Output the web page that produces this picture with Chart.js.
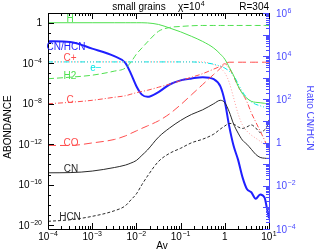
<!DOCTYPE html>
<html><head><meta charset="utf-8">
<script src="https://cdn.jsdelivr.net/npm/chart.js@4/dist/chart.umd.min.js"></script>
<style>html,body{margin:0;padding:0;background:#fff}canvas{display:block}</style>
</head><body>
<canvas id="c" width="314" height="251"></canvas>
<script>
// Av grid (x axis)
const av = [1e-4,3.16e-4,1e-3,3.16e-3,5.62e-3,7.5e-3,1e-2,1.33e-2,1.78e-2,3.16e-2,5.62e-2,0.1,0.178,0.316,0.562,0.794,1,1.26,1.58,2.0,2.51,3.16,3.98,5.01,6.31,7.94,8.91,10];
// log10 abundances
const logH   = [0,0,0,0,0,0,0,0,-0.02,-0.17,-0.52,-0.9,-1.35,-1.85,-2.5,-3.1,-3.6,-4.4,-5.2,-6.25,-7.0,-7.46,-7.76,-7.86,-7.9,-7.96,-8.0,-8.0];
const logH2  = [-5.53,-5.38,-5.18,-4.78,-4.48,-3.9,-3.1,-2.5,-1.9,-0.85,-0.47,-0.37,-0.3,-0.27,-0.27,-0.27,-0.27,-0.27,-0.27,-0.27,-0.27,-0.27,-0.27,-0.27,-0.27,-0.27,-0.27,-0.27];
const logE   = [-3.87,-3.87,-3.87,-3.87,-3.87,-3.87,-3.87,-3.87,-3.87,-3.87,-3.87,-3.87,-3.87,-3.94,-4.09,-4.29,-4.48,-4.78,-5.23,-6.02,-6.82,-7.41,-7.81,-8.06,-8.2,-8.35,-8.45,-8.6];
const logCp  = [-3.87,-3.87,-3.87,-3.87,-3.87,-3.87,-3.87,-3.87,-3.87,-3.87,-3.87,-3.87,-3.87,-3.87,-4.14,-4.5,-4.95,-5.9,-7.4,-9.0,-10.1,-10.7,-11.1,-11.4,-11.7,-12.0,-12.2,-12.5];
const logC   = [-8.0,-7.86,-7.66,-7.36,-7.21,-7.06,-6.91,-6.79,-6.67,-6.37,-6.07,-5.72,-5.38,-5.03,-4.58,-4.3,-4.05,-4.5,-5.3,-6.3,-7.0,-7.8,-8.9,-9.8,-10.7,-11.6,-12.1,-12.6];
const logCO  = [-12.12,-12.12,-11.87,-11.53,-11.18,-10.93,-10.68,-10.43,-10.19,-9.69,-9.0,-8.1,-7.1,-6.1,-5.1,-4.5,-4.05,-3.9,-3.9,-3.9,-3.9,-3.9,-3.9,-3.9,-3.9,-3.9,-3.9,-3.9];
const logCN  = [-14.82,-14.8,-14.65,-14.3,-14.06,-13.86,-13.6,-13.1,-12.57,-11.3,-10.4,-9.65,-9.05,-8.6,-8.0,-7.66,-7.9,-8.8,-10.0,-10.9,-11.6,-12.0,-12.5,-13.0,-13.3,-13.38,-13.4,-13.4];
const logHCN = [-19.61,-19.46,-19.12,-18.57,-18.08,-17.5,-16.9,-16.0,-15.15,-13.7,-12.9,-12.4,-11.85,-11.5,-11.0,-10.5,-10.2,-9.95,-10.0,-10.29,-10.44,-10.29,-10.09,-10.39,-10.83,-10.58,-10.29,-9.6];
// log10 CN/HCN ratio (right axis)
const logRatio = [4.69,4.66,4.35,4.0,3.69,3.19,2.61,2.22,2.12,2.34,2.69,2.88,2.97,3.03,2.94,2.6,1.9,0.75,-0.15,-0.8,-1.6,-2.15,-2.3,-2.6,-2.4,-2.55,-3.0,-3.5];
// axis tick exponents
const xTickExp = [-4,-3,-2,-1,0,1];
const yTickExp = [0,-4,-8,-12,-16,-20];
const y2TickExp = [6,4,2,0,-2,-4];

const FONT = "'Liberation Sans', Arial, sans-serif";
const GREEN='#4fe04f', CYAN='#00e6e6', RED='#ff4d4d', PINK='#ff9e9e', BLACK='#2a2a2a', BLUE='#1f1fff', LBLUE='#4a4aff';

function pts(arr){ return av.map((a,i)=>({x:a,y:Math.pow(10,arr[i])})); }
function ds(arr,color,dash,w,axis){
  return {data:pts(arr),borderColor:color,borderWidth:w||1,borderDash:dash||[],pointRadius:0,
    fill:false,cubicInterpolationMode:'monotone',yAxisID:axis||'y'};
}

const overlay = {
  id:'overlay',
  afterDraw(chart){
    const ctx=chart.ctx, ca=chart.chartArea, X=chart.scales.x, Y=chart.scales.y, Y2=chart.scales.y2;
    ctx.save();
    ctx.lineWidth=1;
    // frame
    ctx.strokeStyle='#000';
    ctx.beginPath();
    ctx.moveTo(ca.right,ca.top+0.5);ctx.lineTo(ca.left+0.5,ca.top+0.5);ctx.lineTo(ca.left+0.5,ca.bottom+0.5);ctx.lineTo(ca.right,ca.bottom+0.5);
    ctx.stroke();
    ctx.strokeStyle=LBLUE;
    ctx.beginPath();ctx.moveTo(ca.right+0.5,ca.top);ctx.lineTo(ca.right+0.5,ca.bottom+1);ctx.stroke();
    // x ticks (top and bottom, inward)
    ctx.strokeStyle='#000';
    ctx.beginPath();
    for(let d=-4; d<=1; d++){
      for(let m=1;m<=9;m++){
        const v=m*Math.pow(10,d); if(v>10*1.0001) break;
        const px=Math.round(X.getPixelForValue(v))+0.5;
        const L = m===1?6:3;
        ctx.moveTo(px,ca.bottom);ctx.lineTo(px,ca.bottom-L);
        ctx.moveTo(px,ca.top);ctx.lineTo(px,ca.top+L);
      }
    }
    // left ticks
    for(let d=-20; d<=0; d++){
      const py=Math.round(Y.getPixelForValue(Math.pow(10,d)))+0.5;
      const L = (d%4===0)?6:3;
      ctx.moveTo(ca.left,py);ctx.lineTo(ca.left+L,py);
    }
    ctx.stroke();
    // right ticks
    ctx.strokeStyle=LBLUE;
    ctx.beginPath();
    for(let d=-4; d<=6; d++){
      for(let m=1;m<=9;m++){
        const v=m*Math.pow(10,d); if(v>1e6*1.0001) break;
        const py=Math.round(Y2.getPixelForValue(v))+0.5;
        const L = m===1?6:3;
        ctx.moveTo(ca.right,py);ctx.lineTo(ca.right-L,py);
      }
    }
    ctx.stroke();

    // power-of-ten labels
    function pw(e){ return e===0?{b:'1',e:''}:{b:'10',e:(e<0?'\u2212':'')+Math.abs(e)}; }
    function drawPow(e,x,y,align,color){
      const p=pw(e);
      ctx.fillStyle=color;
      ctx.font='10px '+FONT; const wb=ctx.measureText(p.b).width;
      ctx.font='7px '+FONT; const we=p.e?ctx.measureText(p.e).width+0.5:0;
      const w=wb+we;
      let x0 = align==='right'? x-w : align==='center'? x-w/2 : x;
      ctx.textAlign='left'; ctx.textBaseline='alphabetic';
      ctx.font='10px '+FONT; ctx.fillText(p.b,x0,y);
      if(p.e){ ctx.font='7px '+FONT; ctx.fillText(p.e,x0+wb+0.5,y-4); }
    }
    xTickExp.forEach(e=>drawPow(e,X.getPixelForValue(Math.pow(10,e)),240,'center','#000'));
    yTickExp.forEach(e=>drawPow(e,42,Y.getPixelForValue(Math.pow(10,e))+3.5,'right','#000'));
    y2TickExp.forEach(e=>drawPow(e,276,Y2.getPixelForValue(Math.pow(10,e))+3.5,'left',LBLUE));

    // titles
    ctx.font='10px '+FONT; ctx.textBaseline='alphabetic';
    ctx.fillStyle='#000';
    ctx.textAlign='center'; ctx.fillText('small grains',139,10);
    ctx.textAlign='left';
    ctx.fillText('\u03c7=10',178,10);
    const wchi=ctx.measureText('\u03c7=10').width;
    ctx.font='7px '+FONT; ctx.fillText('4',178+wchi+0.5,6);
    ctx.font='10px '+FONT; ctx.textAlign='right'; ctx.fillText('R=304',269,10);
    ctx.textAlign='center'; ctx.fillText('Av',162,249);
    // axis titles
    ctx.save(); ctx.translate(11,127); ctx.rotate(-Math.PI/2); ctx.textAlign='center'; ctx.fillText('ABONDANCE',0,0); ctx.restore();
    ctx.save(); ctx.translate(307,118); ctx.rotate(Math.PI/2); ctx.fillStyle=LBLUE; ctx.textAlign='center'; ctx.fillText('Ratio CN/HCN',0,0); ctx.restore();

    // curve labels
    const labs=[['H',70,22,GREEN],['CN/HCN',66,50,BLUE],['C+',70,61,RED],['e\u2212',96,71,CYAN],['H2',70,78.5,GREEN],
      ['C',70,102.5,RED],['CO',71,145.5,RED],['CN',71,171.5,BLACK],['HCN',70,220,BLACK]];
    ctx.textAlign='center';
    labs.forEach(l=>{ctx.fillStyle=l[3]; ctx.fillText(l[0],l[1],l[2]);});
    ctx.restore();
  }
};

new Chart(document.getElementById('c'),{
  type:'line',
  data:{datasets:[
    ds(logH,GREEN,[],1),
    ds(logH2,GREEN,[6,3],1),
    ds(logE,CYAN,[5,2,1,2,1,2,1,2],1),
    ds(logCp,PINK,[1,2],1),
    ds(logC,RED,[5,2,1,2],1),
    ds(logCO,RED,[8,4],1),
    ds(logCN,BLACK,[],1),
    ds(logHCN,BLACK,[3,2],1),
    ds(logRatio,BLUE,[],2,'y2')
  ]},
  options:{
    responsive:false, devicePixelRatio:1, animation:false,
    layout:{padding:{left:48,right:45,top:13,bottom:22}},
    plugins:{legend:{display:false},tooltip:{enabled:false},title:{display:false}},
    scales:{
      x:{type:'logarithmic',min:1e-4,max:10,display:false},
      y:{type:'logarithmic',min:Math.pow(10,-20.37),max:Math.pow(10,0.96),display:false},
      y2:{type:'logarithmic',position:'right',min:1e-4,max:1e6,display:false}
    }
  },
  plugins:[overlay]
});
</script>
</body></html>
